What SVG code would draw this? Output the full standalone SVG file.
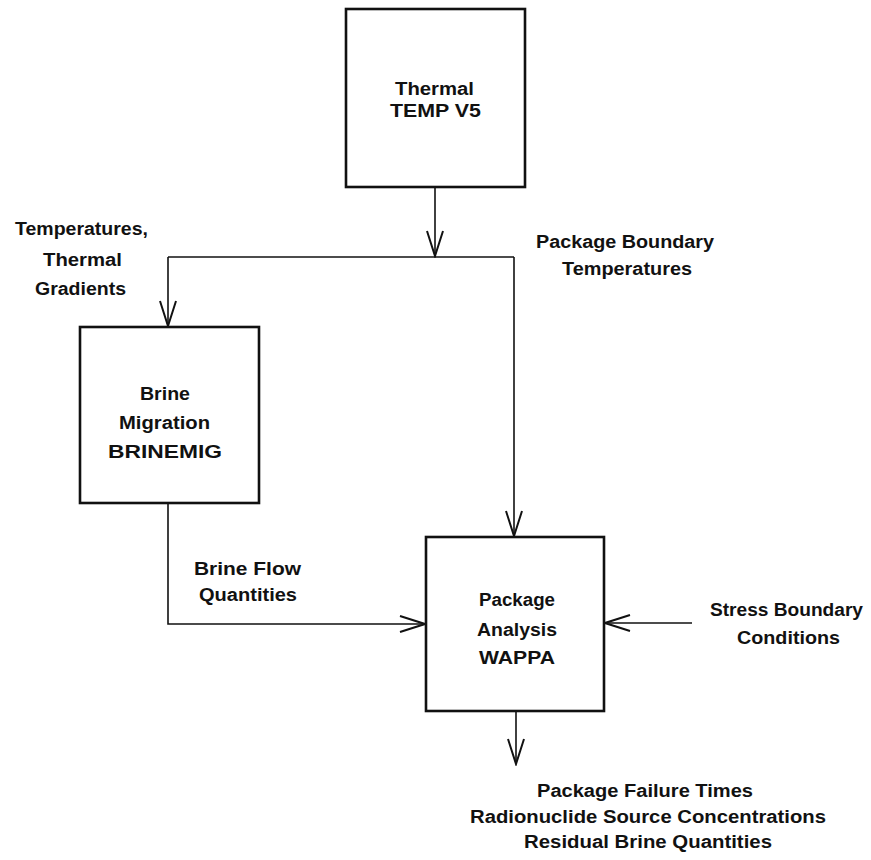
<svg xmlns="http://www.w3.org/2000/svg" width="871" height="860" viewBox="0 0 871 860">
  <style>
    .box { fill: #ffffff; stroke: #111111; stroke-width: 2.6; }
    .conn { fill: none; stroke: #111111; stroke-width: 1.6; }
    .t { font-family: "Liberation Sans", Arial, sans-serif; font-weight: bold; font-size: 18px; fill: #111111; }
  </style>
  <defs>
    <marker id="vhead" markerUnits="userSpaceOnUse" markerWidth="28" markerHeight="20" viewBox="0 0 28 20" refX="26" refY="10" orient="auto">
      <path d="M1,2 L26,10 L1,18" fill="none" stroke="#111111" stroke-width="2"/>
    </marker>
  </defs>
  <rect width="871" height="860" fill="#ffffff"/>

  <g id="connectors">
    <line class="conn" x1="435" y1="187" x2="435" y2="256" marker-end="url(#vhead)"/>
    <line class="conn" x1="168" y1="257" x2="514" y2="257" stroke-width="2.4"/>
    <line class="conn" x1="168" y1="257" x2="168" y2="326" marker-end="url(#vhead)"/>
    <line class="conn" x1="514" y1="257" x2="514" y2="536" marker-end="url(#vhead)"/>
    <polyline class="conn" points="168,503 168,624 425,624" marker-end="url(#vhead)"/>
    <line class="conn" x1="692" y1="623" x2="605" y2="623" stroke-width="2.2" marker-end="url(#vhead)"/>
    <line class="conn" x1="516" y1="711" x2="516" y2="764" marker-end="url(#vhead)"/>
  </g>

  <g id="thermal">
    <rect class="box" x="346" y="9" width="179" height="178"/>
    <text class="t" x="395" y="95" textLength="79" lengthAdjust="spacingAndGlyphs">Thermal</text>
    <text class="t" x="390" y="117" textLength="91" lengthAdjust="spacingAndGlyphs">TEMP V5</text>
  </g>

  <g id="brine-migration">
    <rect class="box" x="80" y="327" width="179" height="176"/>
    <text class="t" x="140" y="400" textLength="50" lengthAdjust="spacingAndGlyphs">Brine</text>
    <text class="t" x="119" y="429" textLength="91" lengthAdjust="spacingAndGlyphs">Migration</text>
    <text class="t" x="108" y="458" textLength="114" lengthAdjust="spacingAndGlyphs">BRINEMIG</text>
  </g>

  <g id="package-analysis">
    <rect class="box" x="426" y="537" width="178" height="174"/>
    <text class="t" x="479" y="606" textLength="76" lengthAdjust="spacingAndGlyphs">Package</text>
    <text class="t" x="477" y="636" textLength="80" lengthAdjust="spacingAndGlyphs">Analysis</text>
    <text class="t" x="479" y="664" textLength="76" lengthAdjust="spacingAndGlyphs">WAPPA</text>
  </g>

  <g id="labels">
    <text class="t" x="15" y="235" textLength="133" lengthAdjust="spacingAndGlyphs">Temperatures,</text>
    <text class="t" x="43" y="266" textLength="79" lengthAdjust="spacingAndGlyphs">Thermal</text>
    <text class="t" x="35" y="295" textLength="91" lengthAdjust="spacingAndGlyphs">Gradients</text>

    <text class="t" x="536" y="248" textLength="178" lengthAdjust="spacingAndGlyphs">Package Boundary</text>
    <text class="t" x="562" y="275" textLength="130" lengthAdjust="spacingAndGlyphs">Temperatures</text>

    <text class="t" x="194" y="575" textLength="107" lengthAdjust="spacingAndGlyphs">Brine Flow</text>
    <text class="t" x="199" y="601" textLength="98" lengthAdjust="spacingAndGlyphs">Quantities</text>

    <text class="t" x="710" y="616" textLength="153" lengthAdjust="spacingAndGlyphs">Stress Boundary</text>
    <text class="t" x="737" y="644" textLength="103" lengthAdjust="spacingAndGlyphs">Conditions</text>

    <text class="t" x="537" y="797" textLength="216" lengthAdjust="spacingAndGlyphs">Package Failure Times</text>
    <text class="t" x="470" y="823" textLength="356" lengthAdjust="spacingAndGlyphs">Radionuclide Source Concentrations</text>
    <text class="t" x="524" y="848" textLength="248" lengthAdjust="spacingAndGlyphs">Residual Brine Quantities</text>
  </g>
</svg>
